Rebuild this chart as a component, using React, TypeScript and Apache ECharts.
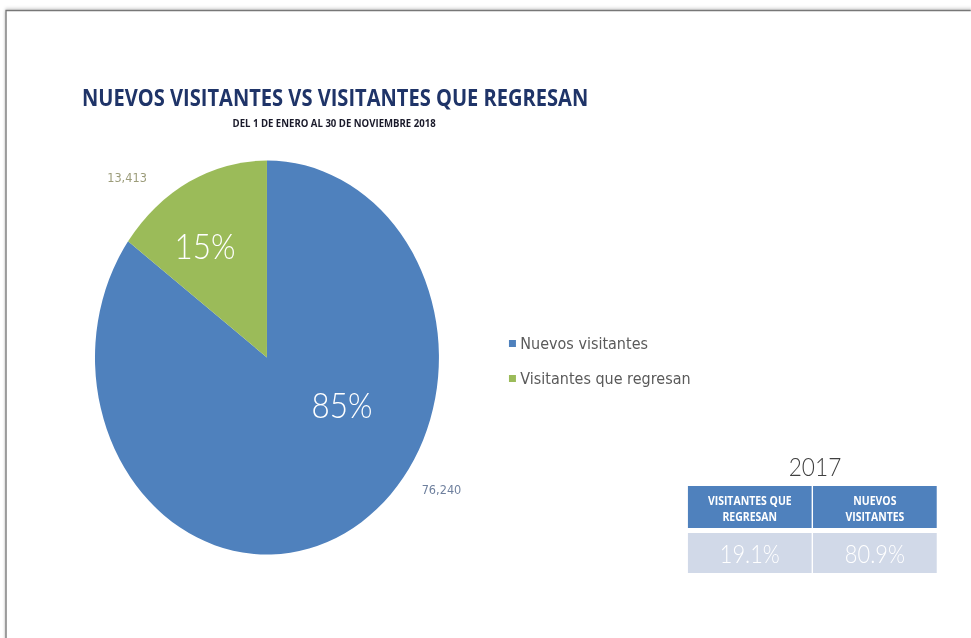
import React, { useEffect, useRef } from 'react';
import * as echarts from 'echarts';

// ---- data ----
const categories = ['Nuevos visitantes', 'Visitantes que regresan'];
const visitors = [76240, 13413];
const titleText = 'NUEVOS VISITANTES VS VISITANTES QUE REGRESAN';
const subtitleText = 'DEL 1 DE ENERO AL 30 DE NOVIEMBRE 2018';
const tableYear = '2017';
const tableHeaders = ['VISITANTES QUE\nREGRESAN', 'NUEVOS\nVISITANTES'];
const tableValues = ['19.1%', '80.9%'];

// ---- styles / layout ----
const sliceColors = ['#4f81bd', '#9bbb59'];
const valLabelColors = ['#6f809e', '#9c9c7a'];
const SX = 0.873; // the reference image is horizontally compressed
const W = 971 / SX;
const H = 638;
const pctLabelPos = [[391.8, 404], [234.8, 245]];
const valLabelPos = [[505.7, 490], [145.5, 178]];
const tableCells = [{ x: 788, w: 141.7 }, { x: 931.3, w: 141.7 }];

export default function App() {
  const ref = useRef<HTMLDivElement>(null);
  useEffect(() => {
    if (!ref.current) return;
    const chart = echarts.init(ref.current, null, { renderer: 'svg' });
    const lightFont = 'Lato';
    const wideFont = 'DejaVu Sans';
    const data = categories.map((name, i) => ({
      name,
      value: visitors[i],
      itemStyle: { color: sliceColors[i] },
    }));
    const dataVal = categories.map((name, i) => ({
      name,
      value: visitors[i],
      itemStyle: { color: 'rgba(0,0,0,0)' },
      label: { color: valLabelColors[i] },
    }));

    const tableGraphics: any[] = [];
    tableCells.forEach((c, i) => {
      tableGraphics.push({
        type: 'rect',
        shape: { x: c.x, y: 486, width: c.w, height: 42 },
        style: { fill: '#4f81bd' },
        silent: true,
      });
      tableGraphics.push({
        type: 'rect',
        shape: { x: c.x, y: 533, width: c.w, height: 40 },
        style: { fill: '#d1d9e8' },
        silent: true,
      });
      tableGraphics.push({
        type: 'text',
        style: {
          text: tableHeaders[i],
          x: c.x + c.w / 2,
          y: 508.5,
          align: 'center',
          textAlign: 'center',
          verticalAlign: 'middle',
          textVerticalAlign: 'middle',
          font: 'bold 12px "Open Sans"',
          lineHeight: 16,
          fill: '#ffffff',
        },
        silent: true,
      });
      tableGraphics.push({
        type: 'text',
        style: {
          text: tableValues[i],
          x: c.x + c.w / 2,
          y: 553.5,
          align: 'center',
          textAlign: 'center',
          verticalAlign: 'middle',
          textVerticalAlign: 'middle',
          font: `300 25px "${lightFont}"`,
          fill: '#ffffff',
        },
        silent: true,
      });
    });

    chart.setOption({
      animation: false,
      backgroundColor: '#ffffff',
      graphic: [
        {
          type: 'rect',
          shape: { x: 6.9, y: 10.5, width: 1300, height: 800 },
          style: {
            fill: '#ffffff',
            stroke: '#777777',
            lineWidth: 1.5,
            shadowBlur: 4,
            shadowColor: 'rgba(0,0,0,0.35)',
          },
          silent: true,
          z: -10,
        },
        {
          type: 'text',
          style: {
            text: titleText,
            x: 94,
            y: 97,
            align: 'left',
            textAlign: 'left',
            verticalAlign: 'middle',
            textVerticalAlign: 'middle',
            font: 'bold 23px "Open Sans"',
            fill: '#1f3468',
          },
          silent: true,
        },
        {
          type: 'text',
          style: {
            text: subtitleText,
            x: 382.7,
            y: 123,
            align: 'center',
            textAlign: 'center',
            verticalAlign: 'middle',
            textVerticalAlign: 'middle',
            font: 'bold 11px "Open Sans"',
            fill: '#1a1a2a',
          },
          silent: true,
        },
        {
          type: 'text',
          style: {
            text: tableYear,
            x: 933.6,
            y: 466,
            align: 'center',
            textAlign: 'center',
            verticalAlign: 'middle',
            textVerticalAlign: 'middle',
            font: `300 26px "${lightFont}"`,
            fill: '#404040',
          },
          silent: true,
        },
        ...tableGraphics,
      ],
      legend: {
        data: categories,
        orient: 'vertical',
        left: 578,
        top: 330,
        icon: 'rect',
        itemWidth: 8,
        itemHeight: 7,
        itemGap: 18,
        textStyle: {
          fontFamily: wideFont,
          fontSize: 16.5,
          lineHeight: 16,
          color: '#5a5a5a',
        },
        selectedMode: false,
      },
      series: [
        {
          type: 'pie',
          center: [305.8, 357.5],
          radius: 197,
          startAngle: 90,
          clockwise: true,
          data,
          label: {
            show: true,
            position: 'inside',
            formatter: (p: any) => `${Math.round(p.percent)}%`,
            color: '#ffffff',
            fontFamily: lightFont,
            fontWeight: 300,
            fontSize: 36,
          },
          labelLine: { show: false },
          labelLayout: (p: any) => ({
            x: pctLabelPos[p.dataIndex][0],
            y: pctLabelPos[p.dataIndex][1],
            align: 'center',
            verticalAlign: 'middle',
          }),
          emphasis: { disabled: true },
          silent: true,
        },
        {
          type: 'pie',
          center: [305.8, 357.5],
          radius: 197,
          startAngle: 90,
          clockwise: true,
          data: dataVal,
          label: {
            show: true,
            position: 'outside',
            formatter: (p: any) => p.value.toLocaleString('en-US'),
            fontFamily: wideFont,
            fontSize: 13,
          },
          labelLine: { show: false },
          labelLayout: (p: any) => ({
            x: valLabelPos[p.dataIndex][0],
            y: valLabelPos[p.dataIndex][1],
            align: 'center',
            verticalAlign: 'middle',
          }),
          emphasis: { disabled: true },
          silent: true,
        },
      ],
    });
    return () => chart.dispose();
  }, []);

  return (
    <div
      ref={ref}
      style={{
        position: 'fixed',
        left: 0,
        top: 0,
        width: W,
        height: H,
        transform: `scaleX(${SX})`,
        transformOrigin: '0 0',
      }}
    />
  );
}
